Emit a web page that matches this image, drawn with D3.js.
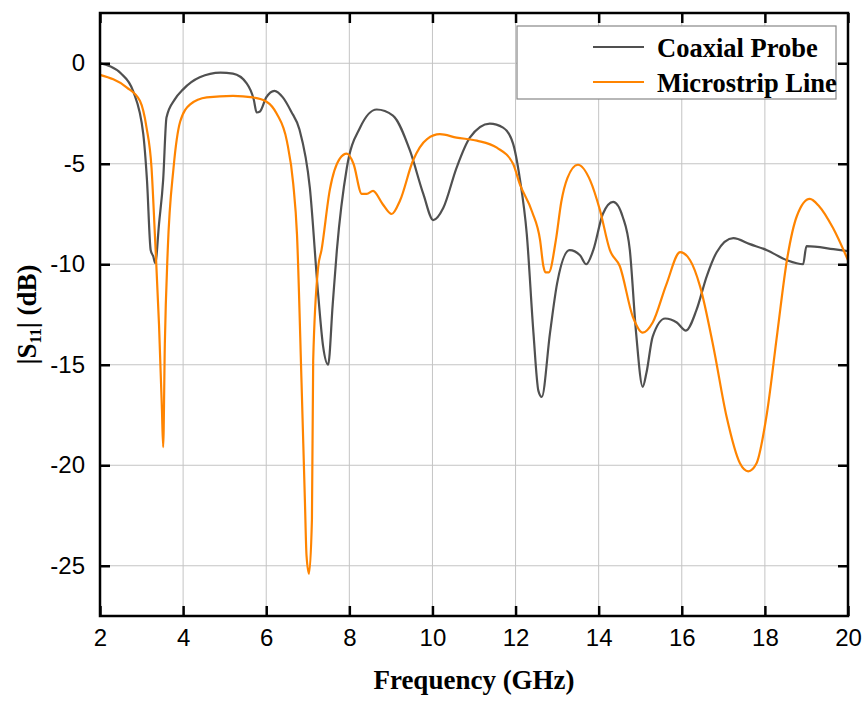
<!DOCTYPE html>
<html><head><meta charset="utf-8">
<script src="https://cdn.jsdelivr.net/npm/d3@7"></script>
<style>body{margin:0;background:#fff}svg{display:block}</style>
</head><body>
<svg id="chart" width="863" height="702"></svg>
<script>
const coaxFreq = [2.0,2.24,2.5,2.8,3.04,3.13,3.22,3.28,3.33,3.42,3.52,3.6,3.8,4.0,4.4,4.9,5.2,5.53,5.7,5.77,5.85,6.0,6.2,6.4,6.6,6.8,7.05,7.25,7.37,7.49,7.6,7.7,7.94,8.26,8.66,9.05,9.46,9.78,10.02,10.26,10.58,10.9,11.38,11.7,11.94,12.1,12.27,12.43,12.55,12.63,12.83,13.0,13.3,13.55,13.7,13.87,14.1,14.35,14.58,14.75,14.9,15.06,15.15,15.3,15.6,15.88,16.1,16.35,16.6,16.84,17.24,17.64,18.05,18.53,18.92,19.0,19.65,20.0];
const coaxS11 = [0.0,-0.15,-0.5,-1.4,-3.5,-5.8,-9.3,-9.6,-9.95,-8.0,-5.8,-2.7,-1.8,-1.3,-0.7,-0.47,-0.52,-1.0,-1.8,-2.45,-2.4,-1.7,-1.37,-1.7,-2.4,-3.3,-6.2,-11.5,-14.1,-15.0,-12.0,-9.3,-5.2,-3.2,-2.3,-2.6,-4.35,-6.5,-7.8,-7.2,-5.2,-3.7,-3.0,-3.2,-4.0,-5.7,-8.5,-13.4,-16.3,-16.6,-13.4,-10.95,-9.3,-9.55,-10.0,-9.3,-7.5,-6.9,-7.65,-9.3,-13.4,-16.1,-15.4,-13.6,-12.7,-12.9,-13.3,-12.3,-10.6,-9.4,-8.7,-9.0,-9.3,-9.8,-10.0,-9.1,-9.25,-9.35];
const microFreq = [2.0,2.64,2.96,3.12,3.24,3.32,3.42,3.49,3.52,3.56,3.63,3.77,3.93,4.17,4.57,5.2,5.68,6.0,6.25,6.5,6.65,6.74,6.85,6.93,6.97,7.03,7.1,7.13,7.25,7.33,7.53,7.77,7.94,8.1,8.3,8.42,8.57,8.8,9.02,9.22,9.53,9.87,10.18,10.58,11.07,11.55,11.94,12.1,12.4,12.59,12.67,12.72,12.8,12.97,13.1,13.25,13.5,13.8,14.03,14.27,14.51,14.82,15.06,15.3,15.63,15.96,16.2,16.44,16.76,17.08,17.4,17.6,17.8,18.05,18.3,18.53,18.77,19.08,19.3,19.64,20.0];
const microS11 = [-0.58,-1.2,-1.87,-3.2,-5.2,-8.5,-13.0,-17.2,-19.1,-14.0,-9.3,-5.2,-2.9,-2.05,-1.7,-1.62,-1.7,-1.9,-2.5,-3.9,-6.0,-8.5,-15.9,-21.7,-24.5,-25.4,-22.7,-14.8,-10.15,-9.3,-6.3,-4.75,-4.5,-5.0,-6.5,-6.5,-6.35,-7.0,-7.5,-6.83,-4.85,-3.77,-3.53,-3.7,-3.85,-4.2,-5.0,-6.0,-7.4,-8.8,-10.1,-10.4,-10.4,-8.8,-6.9,-5.7,-5.05,-5.85,-7.3,-9.3,-10.1,-12.6,-13.4,-12.9,-11.0,-9.4,-9.8,-11.1,-14.1,-17.6,-19.9,-20.3,-19.9,-17.4,-13.4,-9.8,-7.6,-6.75,-7.1,-8.2,-9.8];
const xTicks = [2,4,6,8,10,12,14,16,18,20];
const yTicks = [0,-5,-10,-15,-20,-25];
const seriesNames = ["Coaxial Probe","Microstrip Line"];

const svg = d3.select("#chart");
const L = 100, R = 848, T = 13, B = 616;
const x = d3.scaleLinear().domain([2,20]).range([L,R]);
const y = d3.scaleLinear().domain([-27.5,2.5]).range([B,T]);

// grid
const g = svg.append("g");
g.selectAll(".gx").data(xTicks.slice(1,-1)).join("line")
  .attr("x1",d=>x(d)).attr("x2",d=>x(d)).attr("y1",T).attr("y2",B)
  .attr("stroke","#c4c4c4").attr("stroke-width",1);
g.selectAll(".gy").data(yTicks).join("line")
  .attr("x1",L).attr("x2",R).attr("y1",d=>y(d)).attr("y2",d=>y(d))
  .attr("stroke","#c4c4c4").attr("stroke-width",1);

// lines
const line = d3.line().x(d=>x(d[0])).y(d=>y(d[1])).curve(d3.curveMonotoneX);
const coax = coaxFreq.map((f,i)=>[f,coaxS11[i]]);
const micro = microFreq.map((f,i)=>[f,microS11[i]]);
const colors = ["#505050","#ff8400"];
svg.append("path").datum(coax).attr("d",line).attr("fill","none").attr("stroke",colors[0]).attr("stroke-width",2.2).attr("stroke-linejoin","round");
svg.append("path").datum(micro).attr("d",line).attr("fill","none").attr("stroke",colors[1]).attr("stroke-width",2.2).attr("stroke-linejoin","round");

// axes (inward ticks)
const fmt = d => String(d);
const axB = d3.axisBottom(x).tickValues(xTicks).tickSize(-10).tickPadding(13).tickFormat(fmt);
const axT = d3.axisTop(x).tickValues(xTicks).tickSize(-10).tickFormat("");
const axLf = d3.axisLeft(y).tickValues(yTicks).tickSize(-10).tickPadding(15).tickFormat(fmt);
const axRt = d3.axisRight(y).tickValues(yTicks).tickSize(-10).tickFormat("");
function style(sel){
  sel.selectAll(".tick line").attr("stroke","#000").attr("stroke-width",2.5);
  sel.selectAll(".tick text").attr("font-family","'Liberation Sans', Arial, sans-serif").attr("font-size",24).attr("fill","#000");
}
svg.append("g").attr("transform",`translate(0,${B})`).call(axB).call(style);
svg.append("g").attr("transform",`translate(0,${T})`).call(axT).call(style);
svg.append("g").attr("transform",`translate(${L},0)`).call(axLf).call(style);
svg.append("g").attr("transform",`translate(${R},0)`).call(axRt).call(style);
svg.selectAll(".domain").remove();
svg.append("rect").attr("x",L).attr("y",T).attr("width",R-L).attr("height",B-T)
  .attr("fill","none").attr("stroke","#000").attr("stroke-width",2.5);

// axis labels
svg.append("text").attr("x",(L+R)/2).attr("y",689).attr("text-anchor","middle")
  .attr("font-family","'Liberation Serif','Times New Roman',serif").attr("font-weight","bold").attr("font-size",27)
  .text("Frequency (GHz)");
const yl = svg.append("text").attr("transform",`translate(36,${(T+B)/2}) rotate(-90)`).attr("text-anchor","middle")
  .attr("font-family","'Liberation Serif','Times New Roman',serif").attr("font-weight","bold").attr("font-size",27);
yl.append("tspan").text("|S");
yl.append("tspan").attr("font-size",16).attr("dy",5).text("11");
yl.append("tspan").attr("dy",-5).text("| (dB)");

// legend
const lg = svg.append("g");
lg.append("rect").attr("x",517).attr("y",26).attr("width",319).attr("height",73)
  .attr("fill","#fff").attr("stroke","#888").attr("stroke-width",1.2);
seriesNames.forEach((n,i)=>{
  const yy = 47 + i*35;
  lg.append("line").attr("x1",593).attr("x2",644).attr("y1",yy).attr("y2",yy).attr("stroke",colors[i]).attr("stroke-width",2.2);
  lg.append("text").attr("x",657).attr("y",yy+10).attr("font-family","'Liberation Serif','Times New Roman',serif")
    .attr("font-weight","bold").attr("font-size",26.5).attr("fill","#000").text(n);
});
</script>
</body></html>
